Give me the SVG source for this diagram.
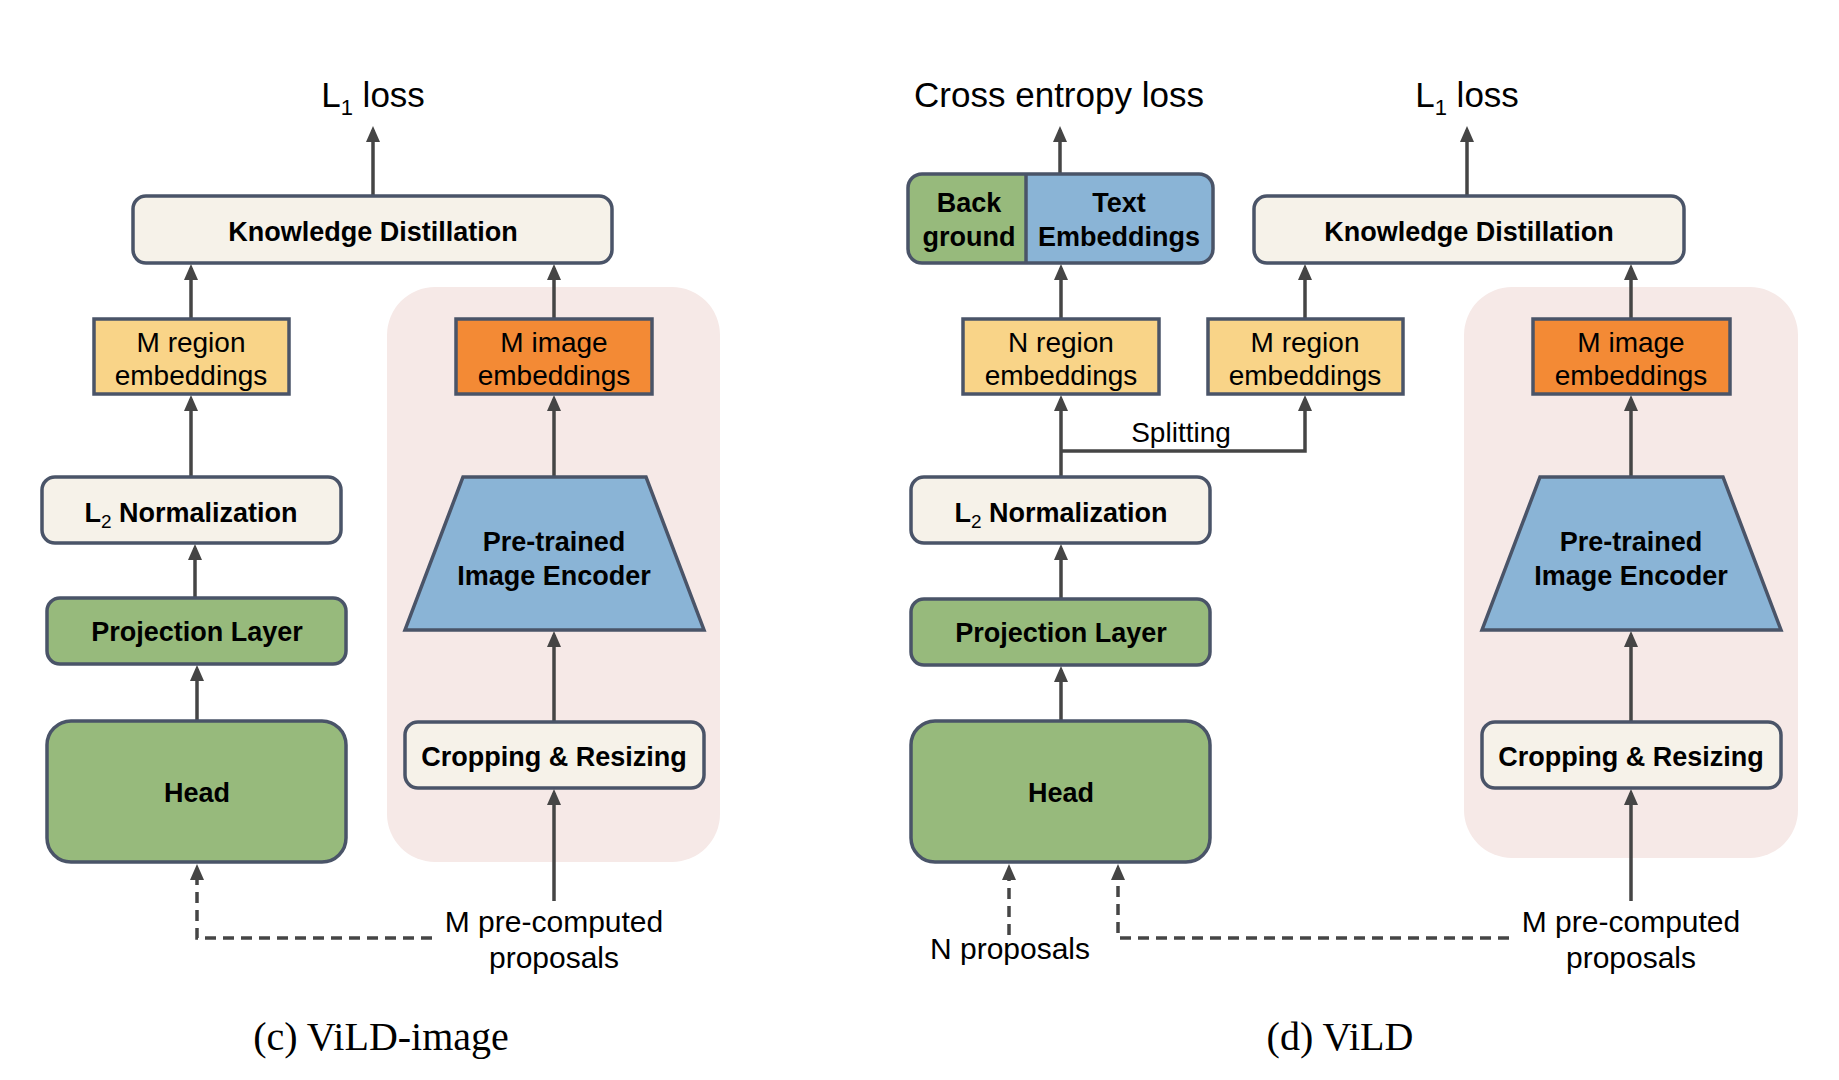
<svg xmlns="http://www.w3.org/2000/svg" width="1839" height="1080" viewBox="0 0 1839 1080">
<defs>
<marker id="ah" markerUnits="userSpaceOnUse" markerWidth="16" markerHeight="14" refX="12" refY="7" orient="auto" viewBox="0 0 16 14">
<path d="M0,0 L16,7 L0,14 Z" fill="#454545"/>
</marker>
<style>
.bg{fill:#fff}
.pink{fill:#f6e9e7}
.box{stroke:#4a5468;stroke-width:3.5}
.cream{fill:#f6f2e9}
.green{fill:#97ba7c}
.blue{fill:#8ab4d6}
.yel{fill:#f9d488}
.org{fill:#f38a35}
.t{font-family:"Liberation Sans",Arial,sans-serif;fill:#000;text-anchor:middle}
.b{font-weight:bold;font-size:27px}
.r{font-size:28px}
.lab{font-size:30px}
.big{font-size:35px}
.cap{font-family:"Liberation Serif","Times New Roman",serif;font-size:40px;fill:#000;text-anchor:middle}
.ar{stroke:#454545;stroke-width:3.5;fill:none}
.ds{stroke:#454545;stroke-width:3.5;fill:none;stroke-dasharray:11 7}
</style>
</defs>
<rect class="bg" x="0" y="0" width="1839" height="1080"/>

<!-- backgrounds -->
<g id="teacher-bg-c"><rect class="pink" x="387" y="287" width="333" height="575" rx="48"/></g>
<g id="teacher-bg-d"><rect class="pink" x="1464" y="287" width="334" height="571" rx="48"/></g>

<!-- connectors -->
<g id="connectors">
<!-- panel c -->
<line class="ar" x1="373" y1="196" x2="373" y2="130" marker-end="url(#ah)"/>
<line class="ar" x1="191" y1="319" x2="191" y2="268" marker-end="url(#ah)"/>
<line class="ar" x1="554" y1="319" x2="554" y2="268" marker-end="url(#ah)"/>
<line class="ar" x1="191" y1="477" x2="191" y2="399" marker-end="url(#ah)"/>
<line class="ar" x1="195" y1="598" x2="195" y2="548" marker-end="url(#ah)"/>
<line class="ar" x1="197" y1="721" x2="197" y2="669" marker-end="url(#ah)"/>
<line class="ar" x1="554" y1="477" x2="554" y2="399" marker-end="url(#ah)"/>
<line class="ar" x1="554" y1="722" x2="554" y2="635" marker-end="url(#ah)"/>
<line class="ar" x1="554" y1="901" x2="554" y2="793" marker-end="url(#ah)"/>
<polyline class="ds" points="432,938 197,938 197,868" marker-end="url(#ah)"/>
<!-- panel d -->
<line class="ar" x1="1060" y1="174" x2="1060" y2="130" marker-end="url(#ah)"/>
<line class="ar" x1="1467" y1="196" x2="1467" y2="130" marker-end="url(#ah)"/>
<line class="ar" x1="1061" y1="319" x2="1061" y2="268" marker-end="url(#ah)"/>
<line class="ar" x1="1305" y1="319" x2="1305" y2="268" marker-end="url(#ah)"/>
<line class="ar" x1="1631" y1="319" x2="1631" y2="268" marker-end="url(#ah)"/>
<line class="ar" x1="1061" y1="477" x2="1061" y2="399" marker-end="url(#ah)"/>
<polyline class="ar" points="1061,451 1305,451 1305,399" marker-end="url(#ah)"/>
<line class="ar" x1="1061" y1="599" x2="1061" y2="548" marker-end="url(#ah)"/>
<line class="ar" x1="1061" y1="721" x2="1061" y2="670" marker-end="url(#ah)"/>
<line class="ar" x1="1631" y1="477" x2="1631" y2="399" marker-end="url(#ah)"/>
<line class="ar" x1="1631" y1="722" x2="1631" y2="635" marker-end="url(#ah)"/>
<line class="ar" x1="1631" y1="901" x2="1631" y2="793" marker-end="url(#ah)"/>
<line class="ds" x1="1009" y1="935" x2="1009" y2="868" marker-end="url(#ah)"/>
<polyline class="ds" points="1509,938 1118,938 1118,868" marker-end="url(#ah)"/>
</g>

<!-- panel c nodes -->
<g id="c-loss"><text class="t big" x="373" y="107">L<tspan font-size="22" dy="8">1</tspan><tspan dy="-8"> loss</tspan></text></g>
<g id="c-kd"><rect class="box cream" x="133" y="196" width="479" height="67" rx="13"/><text class="t b" x="373" y="241">Knowledge Distillation</text></g>
<g id="c-mregion"><rect class="box yel" x="94" y="319" width="195" height="75"/><text class="t r" x="191" y="352">M region</text><text class="t r" x="191" y="385">embeddings</text></g>
<g id="c-mimage"><rect class="box org" x="456" y="319" width="196" height="75"/><text class="t r" x="554" y="352">M image</text><text class="t r" x="554" y="385">embeddings</text></g>
<g id="c-l2"><rect class="box cream" x="42" y="477" width="299" height="66" rx="13"/><text class="t b" x="191" y="522">L<tspan font-size="19" font-weight="normal" dy="6">2</tspan><tspan dy="-6"> Normalization</tspan></text></g>
<g id="c-proj"><rect class="box green" x="47" y="598" width="299" height="66" rx="13"/><text class="t b" x="197" y="641">Projection Layer</text></g>
<g id="c-head"><rect class="box green" x="47" y="721" width="299" height="141" rx="24"/><text class="t b" x="197" y="802">Head</text></g>
<g id="c-encoder"><polygon class="box blue" points="463,477 646,477 704,630 405,630"/><text class="t b" x="554" y="551">Pre-trained</text><text class="t b" x="554" y="585">Image Encoder</text></g>
<g id="c-crop"><rect class="box cream" x="405" y="722" width="299" height="66" rx="13"/><text class="t b" x="554" y="766">Cropping &amp; Resizing</text></g>
<g id="c-proposals"><text class="t lab" x="554" y="932">M pre-computed</text><text class="t lab" x="554" y="968">proposals</text></g>
<g id="c-caption"><text class="cap" x="381" y="1050">(c) ViLD-image</text></g>

<!-- panel d nodes -->
<g id="d-celoss"><text class="t big" x="1059" y="107">Cross entropy loss</text></g>
<g id="d-l1loss"><text class="t big" x="1467" y="107">L<tspan font-size="22" dy="8">1</tspan><tspan dy="-8"> loss</tspan></text></g>
<g id="d-textemb">
<path class="green" d="M1026,174 H922 a14,14 0 0 0 -14,14 V249 a14,14 0 0 0 14,14 H1026 Z"/>
<path class="blue" d="M1026,174 H1199 a14,14 0 0 1 14,14 V249 a14,14 0 0 1 -14,14 H1026 Z"/>
<rect class="box" fill="none" x="908" y="174" width="305" height="89" rx="14"/>
<line class="box" x1="1026" y1="174" x2="1026" y2="263"/>
<text class="t b" x="969" y="212">Back</text><text class="t b" x="969" y="246">ground</text>
<text class="t b" x="1119" y="212">Text</text><text class="t b" x="1119" y="246">Embeddings</text>
</g>
<g id="d-kd"><rect class="box cream" x="1254" y="196" width="430" height="67" rx="13"/><text class="t b" x="1469" y="241">Knowledge Distillation</text></g>
<g id="d-nregion"><rect class="box yel" x="963" y="319" width="196" height="75"/><text class="t r" x="1061" y="352">N region</text><text class="t r" x="1061" y="385">embeddings</text></g>
<g id="d-mregion"><rect class="box yel" x="1208" y="319" width="195" height="75"/><text class="t r" x="1305" y="352">M region</text><text class="t r" x="1305" y="385">embeddings</text></g>
<g id="d-mimage"><rect class="box org" x="1533" y="319" width="197" height="75"/><text class="t r" x="1631" y="352">M image</text><text class="t r" x="1631" y="385">embeddings</text></g>
<g id="d-splitting"><text class="t r" x="1181" y="442">Splitting</text></g>
<g id="d-l2"><rect class="box cream" x="911" y="477" width="299" height="66" rx="13"/><text class="t b" x="1061" y="522">L<tspan font-size="19" font-weight="normal" dy="6">2</tspan><tspan dy="-6"> Normalization</tspan></text></g>
<g id="d-proj"><rect class="box green" x="911" y="599" width="299" height="66" rx="13"/><text class="t b" x="1061" y="642">Projection Layer</text></g>
<g id="d-head"><rect class="box green" x="911" y="721" width="299" height="141" rx="24"/><text class="t b" x="1061" y="802">Head</text></g>
<g id="d-encoder"><polygon class="box blue" points="1540,477 1723,477 1781,630 1482,630"/><text class="t b" x="1631" y="551">Pre-trained</text><text class="t b" x="1631" y="585">Image Encoder</text></g>
<g id="d-crop"><rect class="box cream" x="1482" y="722" width="299" height="66" rx="13"/><text class="t b" x="1631" y="766">Cropping &amp; Resizing</text></g>
<g id="d-nproposals"><text class="t lab" x="1010" y="959">N proposals</text></g>
<g id="d-proposals"><text class="t lab" x="1631" y="932">M pre-computed</text><text class="t lab" x="1631" y="968">proposals</text></g>
<g id="d-caption"><text class="cap" x="1340" y="1050">(d) ViLD</text></g>
</svg>
